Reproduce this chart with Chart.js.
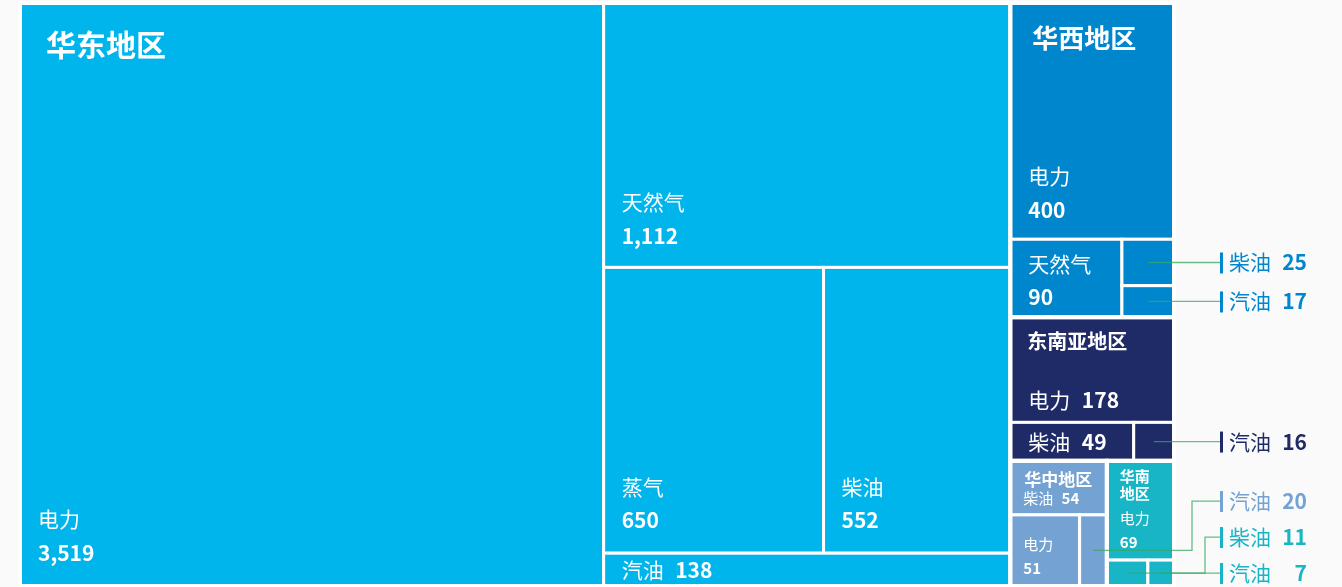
<!DOCTYPE html>
<html lang="zh-CN">
<head>
<meta charset="UTF-8">
<title>各地区能源消耗</title>
<script src="https://cdn.jsdelivr.net/npm/chart.js@4.4.1/dist/chart.umd.min.js"></script>
<style>
    html, body { margin: 0; padding: 0; background: #fafafa; }
    canvas { display: block; }
</style>
</head>
<body>
<canvas id="treemap" width="1342" height="587"></canvas>
<script>
// Regions and energy use per fuel type (null = not used in that region)
const regions = ['华东地区', '华西地区', '东南亚地区', '华中地区', '华南地区'];
const fuels = ['电力', '天然气', '蒸气', '柴油', '汽油'];
const eastValues = [3519, 1112, 650, 552, 138];
const westValues = [400, 90, null, 25, 17];
const seAsiaValues = [178, null, null, 49, 16];
const centralValues = [51, null, null, 54, 20];
const southValues = [69, null, null, 11, 7];
const regionColors = ['#00b4ec', '#0086cd', '#1f2b66', '#74a3d3', '#18b5c6'];

// Data space the treemap is laid out in
const X_MAX = 100;
const Y_MAX = 65;
const FONT = '"Noto Sans CJK SC", "Noto Sans", sans-serif';
const LEADER_COLOR = 'rgba(52, 168, 96, 0.75)';

const seriesByRegion = [eastValues, westValues, seAsiaValues, centralValues, southValues];

// Build region -> fuel hierarchy, largest first
function buildTree() {
    return regions.map((name, i) => {
        const children = fuels
            .map((fuel, j) => ({ name: fuel, value: seriesByRegion[i][j] }))
            .filter(c => c.value != null)
            .sort((a, b) => b.value - a.value);
        const total = children.reduce((s, c) => s + c.value, 0);
        return { name, color: regionColors[i], value: total, children };
    }).sort((a, b) => b.value - a.value);
}

// Squarified layout
function worst(row, side) {
    const s = row.reduce((t, n) => t + n.area, 0);
    let w = 0;
    row.forEach(n => {
        w = Math.max(w, side * side * n.area / (s * s), s * s / (side * side * n.area));
    });
    return w;
}

function layoutRow(row, r) {
    const s = row.reduce((t, n) => t + n.area, 0);
    if (r.w <= r.h) {
        const t = s / r.w;
        let x = r.x;
        row.forEach(n => {
            const w = n.area / t;
            n.rect = { x: x, y: r.y, w: w, h: t };
            x += w;
        });
        r.y += t;
        r.h -= t;
    } else {
        const t = s / r.h;
        let y = r.y;
        row.forEach(n => {
            const h = n.area / t;
            n.rect = { x: r.x, y: y, w: t, h: h };
            y += h;
        });
        r.x += t;
        r.w -= t;
    }
}

function squarify(nodes, rect) {
    const total = nodes.reduce((s, n) => s + n.value, 0);
    const r = { x: rect.x, y: rect.y, w: rect.w, h: rect.h };
    nodes.forEach(n => { n.area = n.value / total * rect.w * rect.h; });
    let row = [];
    let i = 0;
    while (i < nodes.length) {
        const side = Math.min(r.w, r.h);
        const next = row.concat([nodes[i]]);
        if (!row.length || worst(next, side) <= worst(row, side)) {
            row = next;
            i++;
        } else {
            layoutRow(row, r);
            row = [];
        }
    }
    if (row.length) layoutRow(row, r);
}

// Helpers
const clamp = (v, lo, hi) => Math.min(hi, Math.max(lo, v));
const fmt = v => v.toLocaleString('en-US');
const font = (weight, size) => `${weight} ${size}px ${FONT}`;

function titleFontSize(w, h) {
    return Math.round(clamp(7.5 + 0.082 * Math.sqrt(w * h), 12, 30));
}

function childFontSize(w, h) {
    return Math.round(clamp(0.14 * Math.sqrt(w * h), 15, 21));
}

function wrapChars(ctx, text, maxWidth) {
    const lines = [];
    let line = '';
    for (const ch of text) {
        if (line && ctx.measureText(line + ch).width > maxWidth) {
            lines.push(line);
            line = ch;
        } else {
            line += ch;
        }
    }
    if (line) lines.push(line);
    return lines;
}

const treemapPlugin = {
    id: 'treemapCells',
    afterDatasetsDraw(chart) {
        const { ctx, chartArea, scales } = chart;
        const sx = scales.x, sy = scales.y;

        const groups = buildTree();
        squarify(groups, { x: 0, y: 0, w: X_MAX, h: Y_MAX });
        groups.forEach(g => squarify(g.children, g.rect));

        const toPx = r => {
            const left = sx.getPixelForValue(r.x);
            const right = sx.getPixelForValue(r.x + r.w);
            const top = sy.getPixelForValue(r.y);
            const bottom = sy.getPixelForValue(r.y + r.h);
            return { left, right, top, bottom, w: right - left, h: bottom - top };
        };

        ctx.save();

        // Cells
        groups.forEach(g => {
            g.box = toPx(g.rect);
            g.children.forEach(c => {
                c.box = toPx(c.rect);
                ctx.fillStyle = g.color;
                ctx.fillRect(c.box.left, c.box.top, c.box.w, c.box.h);
                ctx.strokeStyle = '#ffffff';
                ctx.lineWidth = 3;
                ctx.strokeRect(c.box.left, c.box.top, c.box.w, c.box.h);
            });
        });
        groups.forEach(g => {
            ctx.strokeStyle = '#ffffff';
            ctx.lineWidth = 4;
            ctx.strokeRect(g.box.left, g.box.top, g.box.w, g.box.h);
        });

        // Labels
        const externals = [];
        ctx.fillStyle = '#ffffff';
        groups.forEach(g => {
            const gb = g.box;
            const tf = titleFontSize(gb.w, gb.h);
            const cf = childFontSize(gb.w, gb.h);
            const tpad = Math.round(tf * 0.85);

            ctx.font = font(700, tf);
            ctx.textBaseline = 'top';
            ctx.textAlign = 'left';
            const lines = wrapChars(ctx, g.name, gb.w - 2 * tpad);
            const titleTop = gb.top + Math.max(8, Math.round(tf * 1.3 - 12));
            lines.forEach((ln, k) => ctx.fillText(ln, gb.left + tpad, titleTop + k * tf * 1.15));
            const titleBottom = titleTop + lines.length * tf * 1.15;

            g.children.forEach((c, idx) => {
                const b = c.box;
                const top = idx === 0 ? titleBottom : b.top;
                const pad = Math.round(cf * 0.85);
                const val = fmt(c.value);
                ctx.font = font(400, cf);
                const nw = ctx.measureText(c.name).width;
                ctx.font = font(700, cf);
                const vw = ctx.measureText(val).width;
                const gap = cf * 0.55;
                const avail = b.bottom - top;

                if (b.w >= Math.max(nw, vw) + 2 * pad && avail >= cf * 3.4) {
                    const vb = b.bottom - clamp(b.h * 0.09, 12, 25);
                    ctx.textBaseline = 'alphabetic';
                    ctx.font = font(400, cf);
                    ctx.fillText(c.name, b.left + pad, vb - cf * 1.6);
                    ctx.font = font(700, cf);
                    ctx.fillText(val, b.left + pad, vb);
                } else if (b.w >= nw + gap + vw + 2 * pad && avail >= cf * 1.4) {
                    let ty;
                    if (idx === 0) {
                        ctx.textBaseline = 'alphabetic';
                        ty = b.bottom - cf * 0.7;
                    } else {
                        ctx.textBaseline = 'middle';
                        ty = (top + b.bottom) / 2;
                    }
                    ctx.font = font(400, cf);
                    ctx.fillText(c.name, b.left + pad, ty);
                    ctx.font = font(700, cf);
                    ctx.fillText(val, b.left + pad + nw + gap, ty);
                } else {
                    externals.push({
                        name: c.name, value: val, color: g.color,
                        cx: (b.left + b.right) / 2, cy: (b.top + b.bottom) / 2
                    });
                }
            });
        });

        // Outside labels with leader lines for cells too small to hold text
        const GAP = 36;
        const tickX = chartArea.right + 47;
        externals.sort((a, b) => a.cy - b.cy);
        externals.forEach(e => { e.ly = e.cy; });
        for (let i = externals.length - 2; i >= 0; i--) {
            externals[i].ly = Math.min(externals[i].ly, externals[i + 1].ly - GAP);
        }
        let shifted = 0;
        for (let i = externals.length - 1; i >= 0; i--) {
            const e = externals[i];
            if (Math.abs(e.ly - e.cy) > 0.5) {
                e.elbow = tickX - 16 - 13 * shifted;
                shifted++;
            } else {
                e.elbow = null;
                shifted = 0;
            }
        }

        externals.forEach(e => {
            ctx.strokeStyle = LEADER_COLOR;
            ctx.lineWidth = 1.3;
            ctx.beginPath();
            ctx.moveTo(e.cx, e.cy);
            if (e.elbow !== null) {
                ctx.lineTo(e.elbow, e.cy);
                ctx.lineTo(e.elbow, e.ly);
            }
            ctx.lineTo(tickX, e.ly);
            ctx.stroke();

            ctx.fillStyle = e.color;
            ctx.fillRect(tickX - 1, e.ly - 10, 3, 21);

            ctx.textBaseline = 'middle';
            ctx.textAlign = 'left';
            ctx.font = font(400, 21);
            ctx.fillText(e.name, tickX + 8, e.ly);
            ctx.textAlign = 'right';
            ctx.font = font(700, 21);
            ctx.fillText(e.value, tickX + 86, e.ly);
        });

        ctx.restore();
    }
};

new Chart(document.getElementById('treemap'), {
    type: 'scatter',
    data: { datasets: [] },
    options: {
        responsive: false,
        animation: false,
        devicePixelRatio: 1,
        layout: { padding: { left: 20, top: 3, right: 168, bottom: 1 } },
        plugins: {
            legend: { display: false },
            tooltip: { enabled: false }
        },
        scales: {
            x: { type: 'linear', min: 0, max: X_MAX, display: false },
            y: { type: 'linear', min: 0, max: Y_MAX, reverse: true, display: false }
        }
    },
    plugins: [treemapPlugin]
});
</script>
</body>
</html>
